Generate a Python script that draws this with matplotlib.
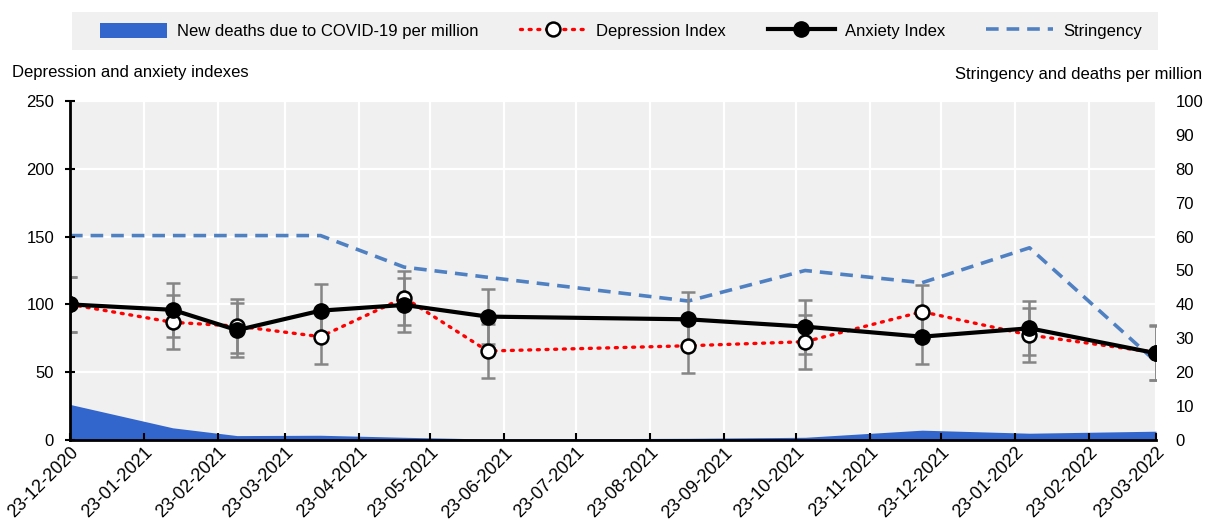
import datetime as dt
import matplotlib
matplotlib.use("Agg")
import matplotlib.pyplot as plt
import matplotlib.dates as mdates
from matplotlib.patches import Patch, Rectangle
from matplotlib.lines import Line2D

plt.rcParams["font.family"] = ["Liberation Sans", "DejaVu Sans"]
FS = 12

# --- data ---
survey_dates = ["2020-12-23", "2021-02-04", "2021-03-03", "2021-04-07", "2021-05-12",
                "2021-06-16", "2021-09-08", "2021-10-27", "2021-12-15", "2022-01-29",
                "2022-03-23"]
anxiety = [100, 96, 81, 95.4, 99.6, 91, 89, 83.6, 76.2, 82.4, 64]
anxiety_err = [20, 20, 20, 20, 20, 20, 20, 20, 20, 20, 20]
depression = [100, 86.8, 84, 76.2, 105, 65.6, 69.5, 72.5, 94.6, 77.4, 64.5]
depression_err = [20, 20, 20, 20, 20, 20, 20, 20, 20, 20, 20]
stringency = [60.3, 60.3, 60.3, 60.3, 51, 48, 41, 50, 46.4, 56.7, 23.1]
deaths = [10.5, 3.6, 1.3, 1.4, 0.8, 0.3, 0.5, 0.8, 2.9, 2.0, 2.6]

tick_dates = ["2020-12-23", "2021-01-23", "2021-02-23", "2021-03-23", "2021-04-23",
              "2021-05-23", "2021-06-23", "2021-07-23", "2021-08-23", "2021-09-23",
              "2021-10-23", "2021-11-23", "2021-12-23", "2022-01-23", "2022-02-23",
              "2022-03-23"]

x = [dt.datetime.strptime(d, "%Y-%m-%d") for d in survey_dates]
xt = [dt.datetime.strptime(d, "%Y-%m-%d") for d in tick_dates]

GREY_BG = "#F0F0F0"
BLUE_AREA = "#3366CC"
BLUE_LINE = "#4F81C2"
DOTS = (0, (0.6, 2.0))

# --- figure ---
fig = plt.figure(figsize=(12.11, 5.2), dpi=100)
ax2 = fig.add_axes([70 / 1211, 1 - 440 / 520, 1086 / 1211, 339 / 520])
ax = ax2.twinx()
ax.yaxis.tick_left()
ax.yaxis.set_label_position("left")
ax2.yaxis.tick_right()
ax.xaxis.set_visible(True)
ax.set_zorder(ax2.get_zorder() + 1)
ax.patch.set_visible(False)
ax2.set_facecolor(GREY_BG)

# right axis: deaths area + stringency
ax2.fill_between(x, deaths, 0, color=BLUE_AREA, lw=0, zorder=2)
ax2.plot(x, stringency, color=BLUE_LINE, lw=2.6, ls=(0, (3.5, 2.2)), zorder=3)
ax2.set_ylim(0, 100)
ax2.set_yticks(range(0, 101, 10))
ax2.set_xlim(xt[0], xt[-1])
ax2.set_xticks(xt)
ax2.grid(True, color="white", lw=1.6)
ax2.set_axisbelow(True)
for i, gl in enumerate(ax2.get_ygridlines()):
    gl.set_visible(i % 2 == 0)
ax2.tick_params(axis="y", length=0, labelsize=FS, pad=14)
ax2.tick_params(axis="x", length=0, labelbottom=False)
for s in ax2.spines.values():
    s.set_visible(False)

# left axis: indexes
ax.errorbar(x, anxiety, yerr=anxiety_err, fmt="none", ecolor="#858585", elinewidth=1.8,
            capsize=5, capthick=1.8, zorder=2)
ax.errorbar(x, depression, yerr=depression_err, fmt="none", ecolor="#858585", elinewidth=1.8,
            capsize=5, capthick=1.8, zorder=2)
ax.plot(x, depression, color="red", lw=2.4, ls=DOTS, dash_capstyle="round",
        marker="o", ms=10, mfc="white", mec="black", mew=1.8, zorder=4)
ax.plot(x, anxiety, color="black", lw=3, marker="o", ms=11, mfc="black", mec="black", zorder=5)
ax.set_ylim(0, 250)
ax.set_yticks(range(0, 251, 50))
ax.set_xlim(xt[0], xt[-1])
ax.set_xticks(xt)
ax.xaxis.set_major_formatter(mdates.DateFormatter("%d-%m-%Y"))
ax.tick_params(axis="x", direction="in", length=5, width=1.5, labelsize=13, pad=3,
               labelbottom=True, bottom=True)
for lbl in ax.get_xticklabels():
    lbl.set_rotation(45)
    lbl.set_ha("right")
    lbl.set_va("top")
    lbl.set_rotation_mode("anchor")
ax.tick_params(axis="y", direction="inout", length=7, width=1.5, labelsize=FS, pad=8)
for side in ["top", "right"]:
    ax.spines[side].set_visible(False)
ax.spines["left"].set_linewidth(2)
ax.spines["bottom"].set_linewidth(2)

fig.text(12 / 1211, 1 - 72 / 520, "Depression and anxiety indexes", fontsize=FS, va="center")
fig.text(1202 / 1211, 1 - 75 / 520, "Stringency and deaths per million", fontsize=FS,
         va="center", ha="right")

# legend on a grey band
fig.patches.append(Rectangle((72 / 1211, 1 - 50 / 520), 1086 / 1211, 38 / 520,
                             transform=fig.transFigure, facecolor=GREY_BG, edgecolor="none"))
handles = [
    Patch(facecolor=BLUE_AREA),
    Line2D([], [], color="red", lw=2.4, ls=DOTS, dash_capstyle="round", marker="o", ms=10,
           mfc="white", mec="black", mew=1.8),
    Line2D([], [], color="black", lw=3, marker="o", ms=11, mfc="black"),
    Line2D([], [], color=BLUE_LINE, lw=2.6, ls=(0, (3.5, 2.2))),
]
labels = ["New deaths due to COVID-19 per million", "Depression Index", "Anxiety Index", "Stringency"]
fig.legend(handles, labels, loc="center", bbox_to_anchor=(621 / 1211, 1 - 31 / 520), ncol=4,
           frameon=False, fontsize=FS, handlelength=4, handleheight=1.0,
           columnspacing=2.5, handletextpad=0.6)

fig.savefig("out.png", dpi=100)
